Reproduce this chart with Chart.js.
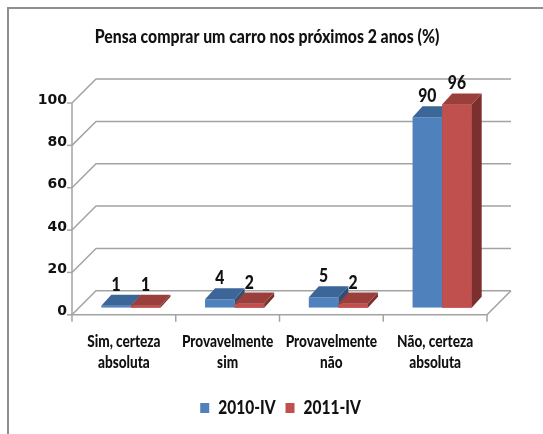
<!DOCTYPE html>
<html><head><meta charset="utf-8">
<script src="https://cdn.jsdelivr.net/npm/chart.js@4/dist/chart.umd.min.js"></script>
<style>html,body{margin:0;padding:0;background:#fff}canvas{display:block}</style>
</head><body>
<canvas id="c" width="543" height="434"></canvas>
<script>
// ---- data ----
const titleText = 'Pensa comprar um carro nos próximos 2 anos (%)';
const categories = [['Sim, certeza','absoluta'],['Provavelmente','sim'],['Provavelmente','não'],['Não, certeza','absoluta']];
const seriesNames = ['2010-IV','2011-IV'];
const values2010 = [1, 4, 5, 90];
const values2011 = [1, 2, 2, 96];
const yMin = 0, yMax = 100, yStep = 20;

// ---- style ----
const NARROW = "Lato, sans-serif";
const WEIGHT = 900;
const SX = 0.85; // horizontal condensing of Lato text (reference text is narrow and tall)
const TXT = '#111111';
const FRONT = {dx:-7, dy:7}, BACK = {dx:17, dy:-17}, BAR = {dx:10, dy:-11};
const frontColors = ['#4f81bd', '#c0504d'];
const faceColors = [{top:'#3d6698', side:'#304f78'}, {top:'#9a3f3c', side:'#7b302e'}];
const LEGEND_SHIFT = -6;

const canvas = document.getElementById('c');
const cctx = canvas.getContext('2d');
const origFill = cctx.fillText, origMeasure = cctx.measureText;
cctx.fillText = function (text, x, y, maxWidth) {
  if (!/Lato/.test(this.font)) return maxWidth === undefined ? origFill.call(this, text, x, y) : origFill.call(this, text, x, y, maxWidth);
  this.save(); this.translate(x, y); this.scale(SX, 1);
  if (maxWidth === undefined) origFill.call(this, text, 0, 0); else origFill.call(this, text, 0, 0, maxWidth / SX);
  this.restore();
};
cctx.measureText = function (text) {
  const m = origMeasure.call(this, text);
  if (!/Lato/.test(this.font)) return m;
  return {
    width: m.width * SX,
    actualBoundingBoxLeft: m.actualBoundingBoxLeft * SX, actualBoundingBoxRight: m.actualBoundingBoxRight * SX,
    actualBoundingBoxAscent: m.actualBoundingBoxAscent, actualBoundingBoxDescent: m.actualBoundingBoxDescent,
    fontBoundingBoxAscent: m.fontBoundingBoxAscent, fontBoundingBoxDescent: m.fontBoundingBoxDescent
  };
};

const box3d = {
  id: 'box3d',
  afterLayout(chart) {
    if (chart.legend) { chart.legend.left += LEGEND_SHIFT; chart.legend.right += LEGEND_SHIFT; }
  },
  beforeDraw(chart) {
    const ctx = chart.ctx;
    ctx.save();
    ctx.fillStyle = '#fff'; ctx.fillRect(0, 0, chart.width, chart.height);
    ctx.strokeStyle = '#8e8e8e'; ctx.lineWidth = 2;
    ctx.beginPath(); ctx.moveTo(8, chart.height); ctx.lineTo(8, 8); ctx.lineTo(chart.width, 8); ctx.stroke();
    ctx.restore();
  },
  beforeDatasetsDraw(chart) {
    const {ctx, chartArea: a, scales: {x, y}} = chart;
    ctx.save();
    ctx.strokeStyle = '#a3a3a3'; ctx.lineWidth = 1.5;
    const y0 = y.getPixelForValue(yMin);
    y.ticks.forEach(t => {
      const p = y.getPixelForValue(t.value);
      ctx.beginPath();
      ctx.moveTo(a.left + FRONT.dx, p + FRONT.dy);
      ctx.lineTo(a.left + BACK.dx, p + BACK.dy);
      ctx.lineTo(a.right + BACK.dx, p + BACK.dy);
      ctx.stroke();
      ctx.beginPath();
      ctx.moveTo(a.left + FRONT.dx - 5, p + FRONT.dy);
      ctx.lineTo(a.left + FRONT.dx, p + FRONT.dy);
      ctx.stroke();
    });
    ctx.beginPath();
    ctx.moveTo(a.left + FRONT.dx, y.getPixelForValue(yMax) + FRONT.dy);
    ctx.lineTo(a.left + FRONT.dx, y0 + FRONT.dy);
    ctx.lineTo(a.right + FRONT.dx, y0 + FRONT.dy);
    ctx.lineTo(a.right + BACK.dx, y0 + BACK.dy);
    ctx.stroke();
    for (let i = 0; i <= categories.length; i++) {
      const px = x.getPixelForValue(i - 0.5) + FRONT.dx;
      ctx.beginPath(); ctx.moveTo(px, y0 + FRONT.dy); ctx.lineTo(px, y0 + FRONT.dy + 7); ctx.stroke();
    }
    ctx.restore();
  },
  afterDatasetsDraw(chart) {
    const ctx = chart.ctx;
    const metas = [chart.getDatasetMeta(0), chart.getDatasetMeta(1)];
    ctx.save();
    for (let i = 0; i < categories.length; i++) {
      metas.forEach((m, k) => {
        const el = m.data[i];
        if (k > 0) el.draw(ctx);
        const {x, y, base, width} = el.getProps(['x', 'y', 'base', 'width'], true);
        const l = x - width / 2, r = x + width / 2;
        ctx.fillStyle = faceColors[k].side;
        ctx.beginPath(); ctx.moveTo(r, y); ctx.lineTo(r + BAR.dx, y + BAR.dy); ctx.lineTo(r + BAR.dx, base + BAR.dy); ctx.lineTo(r, base); ctx.closePath(); ctx.fill();
        ctx.fillStyle = faceColors[k].top;
        ctx.beginPath(); ctx.moveTo(l, y); ctx.lineTo(r, y); ctx.lineTo(r + BAR.dx, y + BAR.dy); ctx.lineTo(l + BAR.dx, y + BAR.dy); ctx.closePath(); ctx.fill();
      });
    }
    ctx.font = WEIGHT + ' 18.5px ' + NARROW;
    ctx.fillStyle = TXT; ctx.textAlign = 'center'; ctx.textBaseline = 'alphabetic';
    metas.forEach((m, k) => {
      const data = chart.data.datasets[k].data;
      m.data.forEach((el, i) => {
        const {x, y} = el.getProps(['x', 'y'], true);
        ctx.fillText(String(data[i]), x, y + BAR.dy - 4);
      });
    });
    ctx.restore();
  }
};

new Chart(canvas, {
  type: 'bar',
  data: {
    labels: categories,
    datasets: [
      {label: seriesNames[0], data: values2010, backgroundColor: frontColors[0], borderWidth: 0, categoryPercentage: 0.57, barPercentage: 1},
      {label: seriesNames[1], data: values2011, backgroundColor: frontColors[1], borderWidth: 0, categoryPercentage: 0.57, barPercentage: 1}
    ]
  },
  options: {
    responsive: false,
    devicePixelRatio: 1,
    animation: false,
    layout: {padding: {left: 0, right: 9, top: 0, bottom: 7}},
    scales: {
      x: {
        grid: {display: false, drawTicks: false}, border: {display: false},
        ticks: {color: TXT, font: {size: 16, weight: WEIGHT, family: NARROW, lineHeight: 1.3125}, padding: 23.5, labelOffset: FRONT.dx, maxRotation: 0, autoSkip: false},
        afterFit(s) { s.height = 81; }
      },
      y: {
        min: yMin, max: yMax,
        grid: {display: false, drawTicks: false}, border: {display: false},
        ticks: {stepSize: yStep, color: TXT, font: {size: 14, weight: 'bold', family: "'DejaVu Sans', sans-serif"}, padding: 12, labelOffset: 4},
        afterFit(s) { s.width = 79; }
      },
      y2: {
        type: 'linear', position: 'right', display: true,
        grid: {display: false, drawTicks: false}, border: {display: false},
        ticks: {display: false},
        afterFit(s) { s.width = 40; }
      }
    },
    plugins: {
      title: {display: true, text: titleText, color: TXT, font: {size: 18.6, weight: WEIGHT, family: NARROW}, padding: {top: 26, bottom: 47.7}},
      legend: {position: 'bottom', fullSize: false, labels: {boxWidth: 9, boxHeight: 10, padding: 10, color: TXT, font: {size: 18.2, weight: WEIGHT, family: NARROW}}},
      tooltip: {enabled: false}
    }
  },
  plugins: [box3d]
});
</script>
</body></html>
